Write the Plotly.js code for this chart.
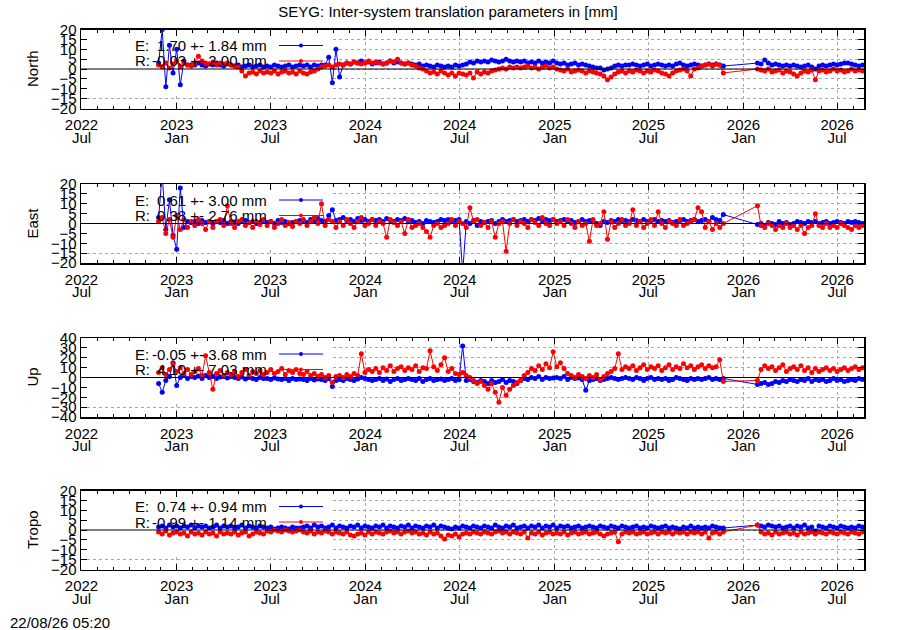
<!DOCTYPE html>
<html>
<head>
<meta charset="utf-8">
<script src="https://cdn.plot.ly/plotly-3.0.1.min.js"></script>
<style>
html,body{margin:0;padding:0;background:#fff;}
#chart{width:900px;height:630px;}
</style>
</head>
<body>
<div id="chart"></div>
<script>
// ---------- DATA (mm) ----------
const chartTitle = 'SEYG: Inter-system translation parameters in [mm]';
const timeStamp = '22/08/26 05:20';
const panelNames = ['North', 'East', 'Up', 'Tropo'];
const legendE = ['1.70 +- 1.84 mm', '0.61 +- 3.00 mm', '-0.05 +- 3.68 mm', '0.74 +- 0.94 mm'];
const legendR = ['-0.03 +- 2.00 mm', '0.38 +- 2.76 mm', '4.10 +- 7.03 mm', '-0.99 +- 1.14 mm'];
const yLimits = [20, 20, 40, 20];
const yTickStep = [5, 5, 10, 5];
const tickDates = ['2022-07-01','2023-01-01','2023-07-01','2024-01-01','2024-07-01','2025-01-01','2025-07-01','2026-01-01','2026-07-01'];
const tickYears = ['2022','2023','2023','2024','2024','2025','2025','2026','2026'];
const tickMonths = ['Jul','Jan','Jul','Jan','Jul','Jan','Jul','Jan','Jul'];
const xRange = ['2022-06-30', '2026-08-22'];

// weekly samples: first block from 2022-11-27 (157 weeks), second block from 2026-01-28 (30 weeks)
const sampleStarts = ['2022-11-27', '2026-01-28'];
const sampleCounts = [157, 30];
const sampleStepDays = 7;

const northE = [
 3, 20, -9, 12, -2, 10, -8, 4, 2, 2,
 2, 3, 2, 1.5, 2.5, 2, 3, 2, 1.5, 2.5,
 2, 1.5, 2, 1, 1.5, 2, 1, 1.5, 2, 1,
 1.5, 1, 2, 1.5, 1, 1.5, 2, 1, 1.5, 2,
 1.5, 2, 1, 2, 1.5, 2, 2, 6, -7, 10,
 -4, 2, 3, 2.5, 3.5, 3, 4, 3, 3.5, 2.5,
 3, 3.5, 2.5, 3, 4, 3, 3.5, 3, 2.5, 3,
 2.5, 2, 2.5, 1.5, 2, 1.5, 1, 2, 1.5, 1,
 1.5, 1, 2, 1.5, 2, 2.5, 3.5, 3, 4, 3.5,
 4, 3.5, 4.5, 4, 3.5, 4, 5, 4, 3.5, 4,
 3.5, 4, 3, 3.5, 3, 4, 3, 3.5, 3, 4,
 3, 2.5, 3, 2, 2.5, 3, 2, 2.5, 2, 1.5,
 1, 0.5, 0.5, -0.5, 0, 0.5, 1.5, 2, 1.5, 2,
 2, 2.5, 2, 1.5, 2, 2.5, 1.5, 2, 2.5, 2,
 1.5, 2, 1.5, 2.5, 3, 2, 1.5, 2, 2.5, 2,
 1.5, 2, 2.5, 2, 2.5, 2, 1.5,
 3, 2.5, 4.5, 3, 2, 2.5, 2, 1.5, 2, 1.5,
 2, 1.5, 1, 1.5, 2, 1, 0, 1.5, 2, 1.5,
 2, 2.5, 2, 2.5, 3, 3, 2.5, 2, 1.5, 2
];
const northR = [
 2, 1, 3, 0.5, 2.5, 4, 1, 3, 2, 1.5,
 3, 6.5, 4, 3, 2.5, 3.5, 2, 3, 2.5, 3,
 2, 1.5, 1, -1, -3.5, -2, -1.5, -2.5, -1, -2,
 -1.5, -2, -1, -2.5, -1.5, -1, -2, -1.5, -2.5, -1,
 -2, -2.5, -1.5, -1, 0, 1, 1.5, 2, 1, 2,
 2.5, 2, 3, 2.5, 3.5, 3, 2.5, 3, 4, 3,
 3.5, 3, 2.5, 3, 4, 3.5, 5, 3, 2.5, 3,
 2, 1.5, 0.5, 0, -1, -2, -1.5, -2.5, -1, -2,
 -3, -2, -3.5, -2, -2.5, -3, -2, -4.5, -1.5, -2.5,
 -1.5, -2, -1, -0.5, 0, 0.5, 0, 1, 0.5, 1,
 0.5, 1, 1.5, 0.5, 1, 0, 1, 1.5, 0.5, 1,
 0, -0.5, -1, 0, -1.5, -1, -0.5, -1, -2, -1,
 -1.5, -2, -2.5, -3.5, -5.5, -4, -2.5, -1.5, -1, -2,
 -1, -1.5, -0.5, -1, -2, -1, -1.5, -0.5, -1, -2,
 -2.5, -3.5, -2, -1, -0.5, 0, -1, -3.5, 0, 0.5,
 1.5, 2, 2.5, 1.5, 2.5, 2, -2,
 0, -0.5, -1, 0, -1.5, -1, -0.5, -2, -1, -1.5,
 -2.5, -3.5, -2, -1, -1.5, -0.5, -5.5, -1, -0.5, -1.5,
 -1, 0, -1, -0.5, -1.5, -1, 0, -1, -0.5, -1
];
const eastE = [
 3, 25, -3, 12, -6, -13, 18, -2, 1, 0.5,
 1, 0, 1.5, 0.5, 1, 0, 1, 0.5, 1.5, 0,
 1, 0.5, 0, 1, 1.5, 0.5, 1, 0, 0.5, 1,
 0.5, 1, 0, 1.5, 0.5, 1, 0, 0.5, 1, 1.5,
 1, 0.5, 2, 1, 2.5, 1.5, 1, 4, 7, 1.5,
 2, 3, 1.5, 2, 1, 2.5, 1.5, 2, 1, 2,
 1.5, 2, 1, 2.5, 1.5, 1, 2, 1.5, 2.5, 1,
 1.5, 0.5, 1, 0, 1.5, 1, 0.5, 1, 2, 1.5,
 2, 1, 1.5, 2, -25, 1, 0, 1.5, -1, 1,
 0.5, 1, 1.5, 0, 1, 2, 1, 1.5, 2, 1,
 1.5, 2, 1, 2, 1.5, 2.5, 1, 2, 1.5, 2,
 1, 1.5, 2, 1, 1.5, 0.5, 1, 2, 1, 1.5,
 1, 0, -1, 1, 0.5, 1.5, 1, 2, 1, 1.5,
 1, 2, 1.5, 1, 2, 1, 1.5, 2, 1, 1.5,
 1, 1.5, 0.5, 1, 1.5, 2, 1, 1.5, 2, 1,
 1.5, 2, 1, 3, 2, 1.5, 4.5,
 -0.5, 0, -1, 0.5, 0, -0.5, 1, 0, 0.5, -0.5,
 0, 1, 0.5, 0, 1, 0.5, 1, 0, 0.5, 1,
 0, 0.5, 1, 0.5, 0, 1, 0.5, 1, 0.5, 0
];
const eastR = [
 1, 3, -5, 2, -7, 4, -3, 2, -2, 1,
 -1, 2, 0, -3, 1, -2, 1, 2, -1, 9,
 0, -2, 1, 2, -1, 0.5, -2, 1, -0.5, 2,
 -1, 1, -2, 0, 2, -1, 0.5, -1.5, 1, 0,
 2, -1, 1, 3, 0, 10, -1, 2, 1, -2,
 1, -1, 2, 0, -2, 1, 3, -1, 0, 2,
 -1, 1, 0, -7, 2, 0.5, -1, 1, -5, 2,
 -2, -1, 0, -2, -4, -7, -1, 0, -2, -1,
 0, 2, -1, 1, 0, -2, 8, 1, 2, -1,
 0.5, -2, 1, -7, 0, 1, -14, 0, 2, -1,
 1, 0, -2, 2, 0.5, -1, 3, 0, -1, 2,
 0, 1, -1, 2, 0, -2, 1, -1, 0, -9,
 2, -1, 0, 6, -8, 1, -2, 0, 2, -1,
 0, 7, -1, 1, -2, 0, 2, -1, 6, 0,
 -2, 1, 0, -1, 2, -1, 0, 1, 2, 8,
 6, -2, 1, -3, 0, -2, 0,
 9, -1, -2, 0, -1, -3, -1, -2, 0, -2,
 -1, -3, -1, -5, -2, -1, 5, -1, -2, 0,
 -2, -1, -2, 0, -1, -2, -3, -1, -2, -1
];
const upE = [
 -6, -15, -3, 1, 15, -8, 0, 2, -1, 1,
 0, 1.5, -1, 2, 0, 1, -1, 0.5, 1, -0.5,
 1, 0, -1, 0.5, -1.5, 0, -1, -2, 0, -1,
 -1, -2, -0.5, -1.5, -2, -1, -3, -1, -2, -1.5,
 -2, -3, -1, -2.5, -1.5, -2, -3, -1, -9, -3,
 -2, -3, -1, -2, -3, -1.5, 0, -1, -2, -3,
 -2, -1, -3, -1.5, -4, -2, -1, -3, -2, -1,
 -2, -3, -1, -4, -2, -1, -3, -2, -1.5, -3,
 -2, -1, -3, -2, 32, -3, -2, -4, -5, -3,
 -4, -6, -3, -5, -4, -2, -5, -3, -4, -6,
 -3, -1, -2, 0, -1, 1, -2, 0, -1, -0.5,
 0, -1, 1, -2, 0, -1, -0.5, -2, -13, -3,
 -2, -1, -3, -2, -1, 0, -1, -2, -1, 0,
 -1, -2, 0, -1, -3, -1, 0, -2, -1, -2,
 -1, -3, -2, 0, -1, -2, -3, -1, -2, -1,
 -2, -1, 0, -2, -1, -2, -1,
 -7, -6, -5, -7, -6, -4, -5, -3, -4, -2,
 -3, -4, -2, -3, -1, -4, -2, -3, -2, -4,
 -3, -1, -3, -2, -4, -3, -2, -3, -1, -2
];
const upR = [
 5, 10, 3, 8, 14, 6, 10, 4, 8, 3,
 6, 9, 2, 22, 5, -12, 4, 7, 2, 5,
 3, 6, 1, 5, 8, 2, 6, 4, 7, 3,
 5, 8, 4, 6, 9, 3, 7, 5, 8, 4,
 3, 6, 2, 4, 1, 3, 0, 2, -5, 1,
 2, 0, 3, 1, 4, 2, 24, 5, 8, 6,
 9, 5, 10, 7, 12, 6, 9, 11, 7, 10,
 8, 12, 6, 10, 9, 27, 11, 7, 13, 20,
 6, 9, 4, 3, 5, 2, 0, -3, -6, -4,
 -8, -12, -6, -15, -25, -10, -18, -12, -8, -5,
 -3, 2, 5, 9, 7, 12, 8, 14, 10, 26,
 11, 15, 9, 4, 2, 0, 3, 1, -1, 2,
 0, 3, -2, 1, 4, 6, 9, 24, 8, 11,
 9, 12, 7, 10, 13, 8, 11, 9, 12, 7,
 10, 13, 8, 11, 9, 14, 10, 12, 8, 11,
 13, 9, 12, 10, 11, 18, -4,
 -3, 8, 12, 9, 11, 7, 10, 13, 6, 9,
 11, 8, 12, 7, 10, 5, 9, 6, 8, 10,
 7, 9, 6, 8, 10, 7, 9, 11, 8, 10
];
const tropoE = [
 1.5, 2, 1, 2.5, 1.5, 2, 1, 2, 1.5, 2.5,
 1, 2, 1.5, 2, 1, 1.5, 2.5, 1, 2, 1.5,
 2, 1, 1.5, 2.5, 1, 2, 1.5, 1, 2, 1.5,
 1, 1.5, 0.5, 1, 1.5, 1, 0.5, 1.5, 1, 1,
 1.5, 2, 1, 2.5, 1.5, 2, 1, 1.5, 2.5, 1,
 2, 1.5, 1, 2, 1.5, 2.5, 1, 2, 1.5, 1,
 2, 1.5, 2.5, 1, 2, 1.5, 1, 2, 1.5, 2.5,
 1, 2, 1.5, 1, 2, 1.5, 2.5, 1, 2, 1.5,
 1, 0.5, 1.5, 1, 2, 1.5, 1, 2, 1.5, 1,
 2, 1.5, 1, 2.5, 1.5, 1, 2, 1.5, 2.5, 1,
 1.5, 2, 1, 2, 1.5, 2.5, 1, 2, 1.5, 2.5,
 1, 2, 1.5, 2, 1, 1.5, 2, 1, 1.5, 2,
 1.5, 1, 2, 1.5, 1, 2, 1.5, 1, 2, 1.5,
 1, 1.5, 2, 1, 1.5, 1, 2, 1.5, 1, 1.5,
 2, 1, 1.5, 1, 0.5, 1.5, 1, 2, 1, 1.5,
 1, 1.5, 1, 2, 1.5, 1, 1,
 2.5, 2, 1.5, 2.5, 2, 1.5, 2, 1, 1.5, 2,
 1, 2, 1.5, 2.5, 1, 1.5, -0.5, 2, 1.5, 1,
 2, 1.5, 1, 2, 1.5, 1, 1.5, 1, 2, 1.5
];
const tropoR = [
 -1, -2, -0.5, -2.5, -1.5, -1, -2, -1.5, -3, -1,
 -2, -1.5, -2.5, -1, -2, -1.5, -3, -1, -2, -1.5,
 -2, -1, -2.5, -1.5, -1, -3, -2, -1, -1.5, -2,
 -0.5, -1, 0, -0.5, -1, 0, -0.5, -1, -0.5, 0,
 -1, -1.5, -0.5, -2, -1, -1.5, -0.5, -1, -2, -1,
 -1.5, -2, -1, -2.5, -3, -2, -1.5, -2.5, -1, -2,
 -1, -1.5, -2, -1, -0.5, -1.5, -1, -2, -1, -0.5,
 -1.5, -1, -2, -1.5, -2.5, -1, -2, -1.5, -3, -4.5,
 -2.5, -3, -2, -3.5, -2, -1.5, -2, -1, -1.5, -2,
 -1, -1.5, -2, -1, -0.5, -1.5, -1, -2, -1, -1.5,
 -2, -1, -4, -1.5, -2, -1, -2.5, -1.5, -1, -2,
 -1.5, -2, -1, -2.5, -1.5, -1, -2, -1.5, -1, -2,
 -1.5, -1, -2, -3, -2, -1.5, -1, -6, -2, -1,
 -1.5, -1, -2, -1.5, -1, -2, -1.5, -1, -2, -1,
 -1.5, -1, -2, -1, -1.5, -1, -2, -1, -1.5, -1,
 -2, -1, -4, -1.5, -1, -2, -1,
 2.5, -1, -2, -1.5, -2.5, -1, -2, -1.5, -1, -2,
 -1.5, -2.5, -1, -2, -1.5, -1, -2, -1, -1.5, -2,
 -1, -1.5, -2, -1, -1.5, -2, -1, -1.5, -2, -1
];
const seriesE = [northE, eastE, upE, tropoE];
const seriesR = [northR, eastR, upR, tropoR];

// ---------- sample dates ----------
function buildDates() {
  const out = [];
  for (let b = 0; b < sampleStarts.length; b++) {
    const t0 = Date.parse(sampleStarts[b] + 'T00:00:00Z');
    for (let i = 0; i < sampleCounts[b]; i++) {
      out.push(new Date(t0 + i * sampleStepDays * 86400000).toISOString().slice(0, 10));
    }
  }
  return out;
}
const dates = buildDates();

// ---------- layout geometry ----------
const W = 900, H = 630;
const X0 = 81 / W, X1 = 864 / W;
const panelTop = [29.5, 184, 338, 490.5];
const panelH = 79;
const FONT = 'Liberation Sans, Arial, Helvetica, sans-serif';
const BLUE = '#0000ff', RED = '#ff0000';
const py = v => 1 - v / H;
const tickFont = {family: FONT, size: 15, color: '#000'};

const traces = [];
const layout = {
  width: W, height: H,
  margin: {l: 0, r: 0, t: 0, b: 0},
  paper_bgcolor: '#fff', plot_bgcolor: '#fff',
  showlegend: false,
  font: {family: FONT, size: 15, color: '#000'},
  title: {text: chartTitle, x: 448 / W, xanchor: 'center', y: py(12), yanchor: 'middle',
          font: {family: FONT, size: 15, color: '#000'}},
  shapes: [], annotations: []
};

for (let k = 0; k < 4; k++) {
  const n = k + 1;
  const xa = 'x' + (n === 1 ? '' : n), ya = 'y' + (n === 1 ? '' : n);
  const xm = 'x' + (n + 4);
  const R = yLimits[k];
  const top = panelTop[k], bot = top + panelH;
  layout['xaxis' + (n === 1 ? '' : n)] = {
    domain: [X0, X1], anchor: ya, type: 'date', range: xRange,
    tickmode: 'array', tickvals: tickDates, ticktext: tickYears,
    ticks: 'inside', ticklen: 6, tickwidth: 1, tickcolor: '#000',
    minor: {dtick: 'M1', tick0: '2022-07-01', ticks: 'inside', ticklen: 3, tickwidth: 1, tickcolor: '#000', showgrid: false},
    showline: true, linecolor: '#000', linewidth: 1.5, mirror: 'ticks',
    showgrid: true, gridcolor: '#a8a8a8', griddash: 'dot', gridwidth: 1,
    ticklabelstandoff: 2, tickfont: tickFont, zeroline: false, fixedrange: true
  };
  // second line of the date labels (month names)
  layout['xaxis' + (n + 4)] = {
    overlaying: xa, anchor: ya, side: 'bottom', type: 'date', range: xRange,
    tickmode: 'array', tickvals: tickDates, ticktext: tickMonths,
    ticks: '', showline: false, showgrid: false, zeroline: false,
    ticklabelstandoff: 18, tickfont: tickFont, fixedrange: true
  };
  layout['yaxis' + (n === 1 ? '' : n)] = {
    domain: [py(bot), py(top)], anchor: xa, range: [-R, R],
    tickmode: 'linear', tick0: 0, dtick: yTickStep[k],
    ticks: 'inside', ticklen: 6, tickwidth: 1, tickcolor: '#000',
    showline: true, linecolor: '#000', linewidth: 1.5, mirror: 'ticks',
    showgrid: true, gridcolor: '#a8a8a8', griddash: 'dot', gridwidth: 1,
    tickfont: tickFont, zeroline: false, fixedrange: true
  };

  // blue first, red on top
  traces.push({type: 'scatter', mode: 'lines+markers', x: dates, y: seriesE[k], xaxis: xa, yaxis: ya,
    line: {color: BLUE, width: 1}, marker: {color: BLUE, size: 5, symbol: 'circle'}, name: 'E'});
  traces.push({type: 'scatter', mode: 'lines+markers', x: dates, y: seriesR[k], xaxis: xa, yaxis: ya,
    line: {color: RED, width: 1}, marker: {color: RED, size: 5, symbol: 'circle'}, name: 'R'});
  // empty trace so the month-label axis is drawn
  traces.push({type: 'scatter', mode: 'markers', x: [], y: [], xaxis: xm, yaxis: ya, hoverinfo: 'skip'});

  // key area hides the grid (drawn between grid and data)
  layout.shapes.push({type: 'rect', xref: xa, yref: ya, x0: xRange[0], x1: '2023-10-26',
    y0: -12.5 * R / 20, y1: R, fillcolor: '#fff', line: {width: 0}, layer: 'between'});
  // zero axis
  layout.shapes.push({type: 'line', xref: xa + ' domain', yref: ya, x0: 0, x1: 1, y0: 0, y1: 0,
    line: {color: '#000', width: 1}, layer: 'above'});

  // key samples
  const rows = [{y: top + 16, c: BLUE, lab: 'E:', txt: legendE[k]}, {y: top + 31.5, c: RED, lab: 'R:', txt: legendR[k]}];
  rows.forEach(r => {
    layout.shapes.push({type: 'line', xref: 'paper', yref: 'paper', x0: 279 / W, x1: 323 / W, y0: py(r.y), y1: py(r.y),
      line: {color: r.c, width: 1}, layer: 'above'});
    layout.shapes.push({type: 'circle', xref: 'paper', yref: 'paper', x0: 299 / W, x1: 303 / W, y0: py(r.y + 2), y1: py(r.y - 2),
      fillcolor: r.c, line: {color: r.c, width: 0}, layer: 'above'});
    layout.annotations.push({xref: 'paper', yref: 'paper', x: 133 / W, y: py(r.y), xanchor: 'left', yanchor: 'middle',
      text: r.lab, showarrow: false, font: {family: FONT, size: 15, color: '#000'}});
    layout.annotations.push({xref: 'paper', yref: 'paper', x: 269 / W, y: py(r.y), xanchor: 'right', yanchor: 'middle',
      text: r.txt, showarrow: false, font: {family: FONT, size: 15, color: '#000'}});
  });

  // panel label
  layout.annotations.push({xref: 'paper', yref: 'paper', x: 32 / W, y: py(top + panelH / 2), xanchor: 'center', yanchor: 'middle',
    text: panelNames[k], textangle: -90, showarrow: false, font: {family: FONT, size: 15, color: '#000'}});
}

layout.annotations.push({xref: 'paper', yref: 'paper', x: 8 / W, y: py(622), xanchor: 'left', yanchor: 'middle',
  text: timeStamp, showarrow: false, font: {family: FONT, size: 15, color: '#000'}});

Plotly.newPlot('chart', traces, layout, {staticPlot: true, displayModeBar: false});
</script>
</body>
</html>
